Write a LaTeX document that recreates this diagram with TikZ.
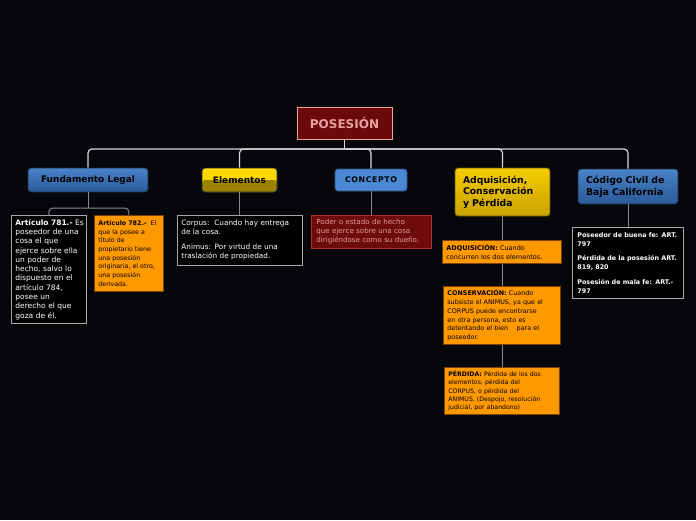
\documentclass[tikz,border=0pt]{standalone}
\usepackage{fontspec}
\setmainfont{DejaVu Sans}
\definecolor{bgdark}{HTML}{05070A}
\definecolor{rootred}{HTML}{6B0A0A}
\definecolor{rootpink}{HTML}{E8A0A0}
\definecolor{linkgray}{HTML}{D8D8D8}
\definecolor{subgray}{HTML}{8A8A8A}
\definecolor{topblue}{HTML}{4A82C8}
\definecolor{lowblue}{HTML}{2A5A98}
\definecolor{conblue}{HTML}{4A88D4}
\definecolor{headline}{HTML}{1A2A40}
\definecolor{topyellow}{HTML}{FFD800}
\definecolor{lowyellow}{HTML}{9C8200}
\definecolor{adqyellow}{HTML}{F5CC00}
\definecolor{adqlow}{HTML}{C9A200}
\definecolor{noteorange}{HTML}{FF9900}
\definecolor{noteline}{HTML}{7A4200}
\definecolor{notegray}{HTML}{A8A8A8}
\definecolor{conred}{HTML}{6E0C0C}
\definecolor{conline}{HTML}{B03030}
\definecolor{context}{HTML}{E49A9A}

\tikzset{
  link/.style={draw=linkgray, line width=1.2pt, rounded corners=4pt},
  sublink/.style={draw=subgray, line width=1pt, rounded corners=4pt},
  headbox/.style={draw=headline, line width=0.8pt, rounded corners=3pt, inner sep=0pt, text=black},
  bluebox/.style={headbox, top color=topblue, bottom color=lowblue},
  darknote/.style={draw=notegray, line width=0.8pt, fill=black, text=white, anchor=north west, align=left, inner xsep=4pt},
  orangenote/.style={draw=noteline, line width=0.8pt, fill=noteorange, text=black, anchor=north west, align=left, inner xsep=4pt},
}

\begin{document}
\begin{tikzpicture}[x=1pt,y=-1pt]
\useasboundingbox[fill=bgdark] (0,0) rectangle (696,520);

% main topic
\node[draw=rootpink, line width=1pt, fill=rootred, text=rootpink, minimum width=95pt, minimum height=32pt, font=\bfseries\fontsize{12}{14}\selectfont] (root) at (344.5,123) {POSESIÓN};

% branches
\node[bluebox, minimum width=120pt, minimum height=24pt, font=\bfseries\fontsize{9}{11}\selectfont] (fl) at (88,180) {Fundamento Legal};
\node[headbox, fill=topyellow, minimum width=75pt, minimum height=24pt, font=\bfseries\fontsize{9}{11}\selectfont,
  path picture={\fill[lowyellow] (path picture bounding box.west) rectangle (path picture bounding box.south east);}] (el) at (239.5,180) {Elementos};
\node[headbox, draw=conblue!60!black, fill=conblue, minimum width=72pt, minimum height=22pt, font=\bfseries\fontsize{7.8}{9}\selectfont\addfontfeatures{LetterSpace=8}] (con) at (371,180) {CONCEPTO};
\node[headbox, draw=adqlow!50!black, top color=adqyellow, bottom color=adqlow, minimum width=95pt, minimum height=48pt, text width=79pt, inner xsep=8pt, align=left, font=\bfseries\fontsize{9.3}{11.3}\selectfont] (adq) at (502.5,192) {Adquisición,\\Conservación\\y Pérdida};
\node[bluebox, minimum width=100pt, minimum height=35pt, text width=84pt, inner xsep=8pt, align=left, font=\bfseries\fontsize{9.4}{12}\selectfont] (cod) at (628,186.5) {Código Civil de\\Baja California};

% notes
\node[darknote, text width=67pt, minimum height=108pt, font=\fontsize{7.5}{9.3}\selectfont] (a781) at (11,215) {\mbox{\textbf{Artículo 781.-} Es}\\poseedor de una\\cosa el que\\ejerce sobre ella\\un poder de\\hecho, salvo lo\\dispuesto en el\\artículo 784,\\posee un\\derecho el que\\goza de él.};
\node[orangenote, text width=61pt, minimum height=76pt, font=\fontsize{6.3}{8.7}\selectfont] (a782) at (94,215) {\mbox{\textbf{Artículo 782.-}\ \ El}\\que la posee a\\título de\\propietario tiene\\una posesión\\\mbox{originaria, el otro,}\\una posesión\\derivada.};
\node[darknote, text width=117pt, minimum height=50pt, font=\fontsize{7.3}{9}\selectfont] (elnote) at (177,215) {Corpus:\ \ Cuando hay entrega\\de la cosa.\\[6pt]Animus: Por virtud de una\\traslación de propiedad.};
\node[darknote, draw=conline, fill=conred, text=context, text width=110pt, inner xsep=5pt, minimum height=33pt, font=\fontsize{7.1}{9}\selectfont] (connote) at (311,215) {Poder o estado de hecho\\que ejerce sobre una cosa\\dirigiéndose como su dueño.};
\node[orangenote, text width=111pt, minimum height=23pt, font=\fontsize{6.5}{9.2}\selectfont] (adqnote) at (442,240) {\textbf{ADQUISICIÓN:} Cuando\\concurren los dos elementos.};
\node[orangenote, text width=109pt, minimum height=58pt, font=\fontsize{6.4}{8.75}\selectfont] (connote2) at (443,286) {\textbf{CONSERVACIÓN:} Cuando\\subsiste el ANIMUS, ya que el\\CORPUS puede encontrarse\\en otra persona, esto es\\detentando el bien\ \ \ \ para el\\poseedor.};
\node[orangenote, text width=107pt, minimum height=47pt, font=\fontsize{6.2}{8.3}\selectfont] (pernote) at (444,367) {\textbf{PÉRDIDA:} Pérdida de los dos\\elementos, pérdida del\\CORPUS, o pérdida del\\ANIMUS. (Despojo, resolución\\judicial, por abandono)};
\node[darknote, text width=101pt, inner xsep=5pt, minimum height=71pt, font=\bfseries\fontsize{6.4}{9.2}\selectfont] (codnote) at (572,227) {Poseedor de buena fe: ART.\\797\\[5pt]Pérdida de la posesión ART.\\819, 820\\[5pt]Posesión de mala fe: ART.-\\797};

% connectors
\coordinate (bus) at (0,149);
\coordinate (flbus) at (0,208);
\draw[link] (root.south) -- (root.south |- bus);
\foreach \n in {fl,el,con,adq,cod}
  \draw[link] (root.south |- bus) -| (\n.north);
\draw[sublink] (fl.south) -- (fl.south |- flbus);
\draw[sublink] (fl.south |- flbus) -| (a781.north);
\draw[sublink] (fl.south |- flbus) -| (a782.north);
\draw[sublink] (el.south) -- (el.south |- elnote.north);
\draw[sublink] (con.south) -- (con.south |- connote.north);
\draw[sublink] (cod.south) -- (cod.south |- codnote.north);
\draw[sublink] (adq.south) -- (adq.south |- adqnote.north);
\draw[sublink] (adq.south |- adqnote.south) -- (adq.south |- connote2.north);
\draw[sublink] (adq.south |- connote2.south) -- (adq.south |- pernote.north);
\end{tikzpicture}
\end{document}
